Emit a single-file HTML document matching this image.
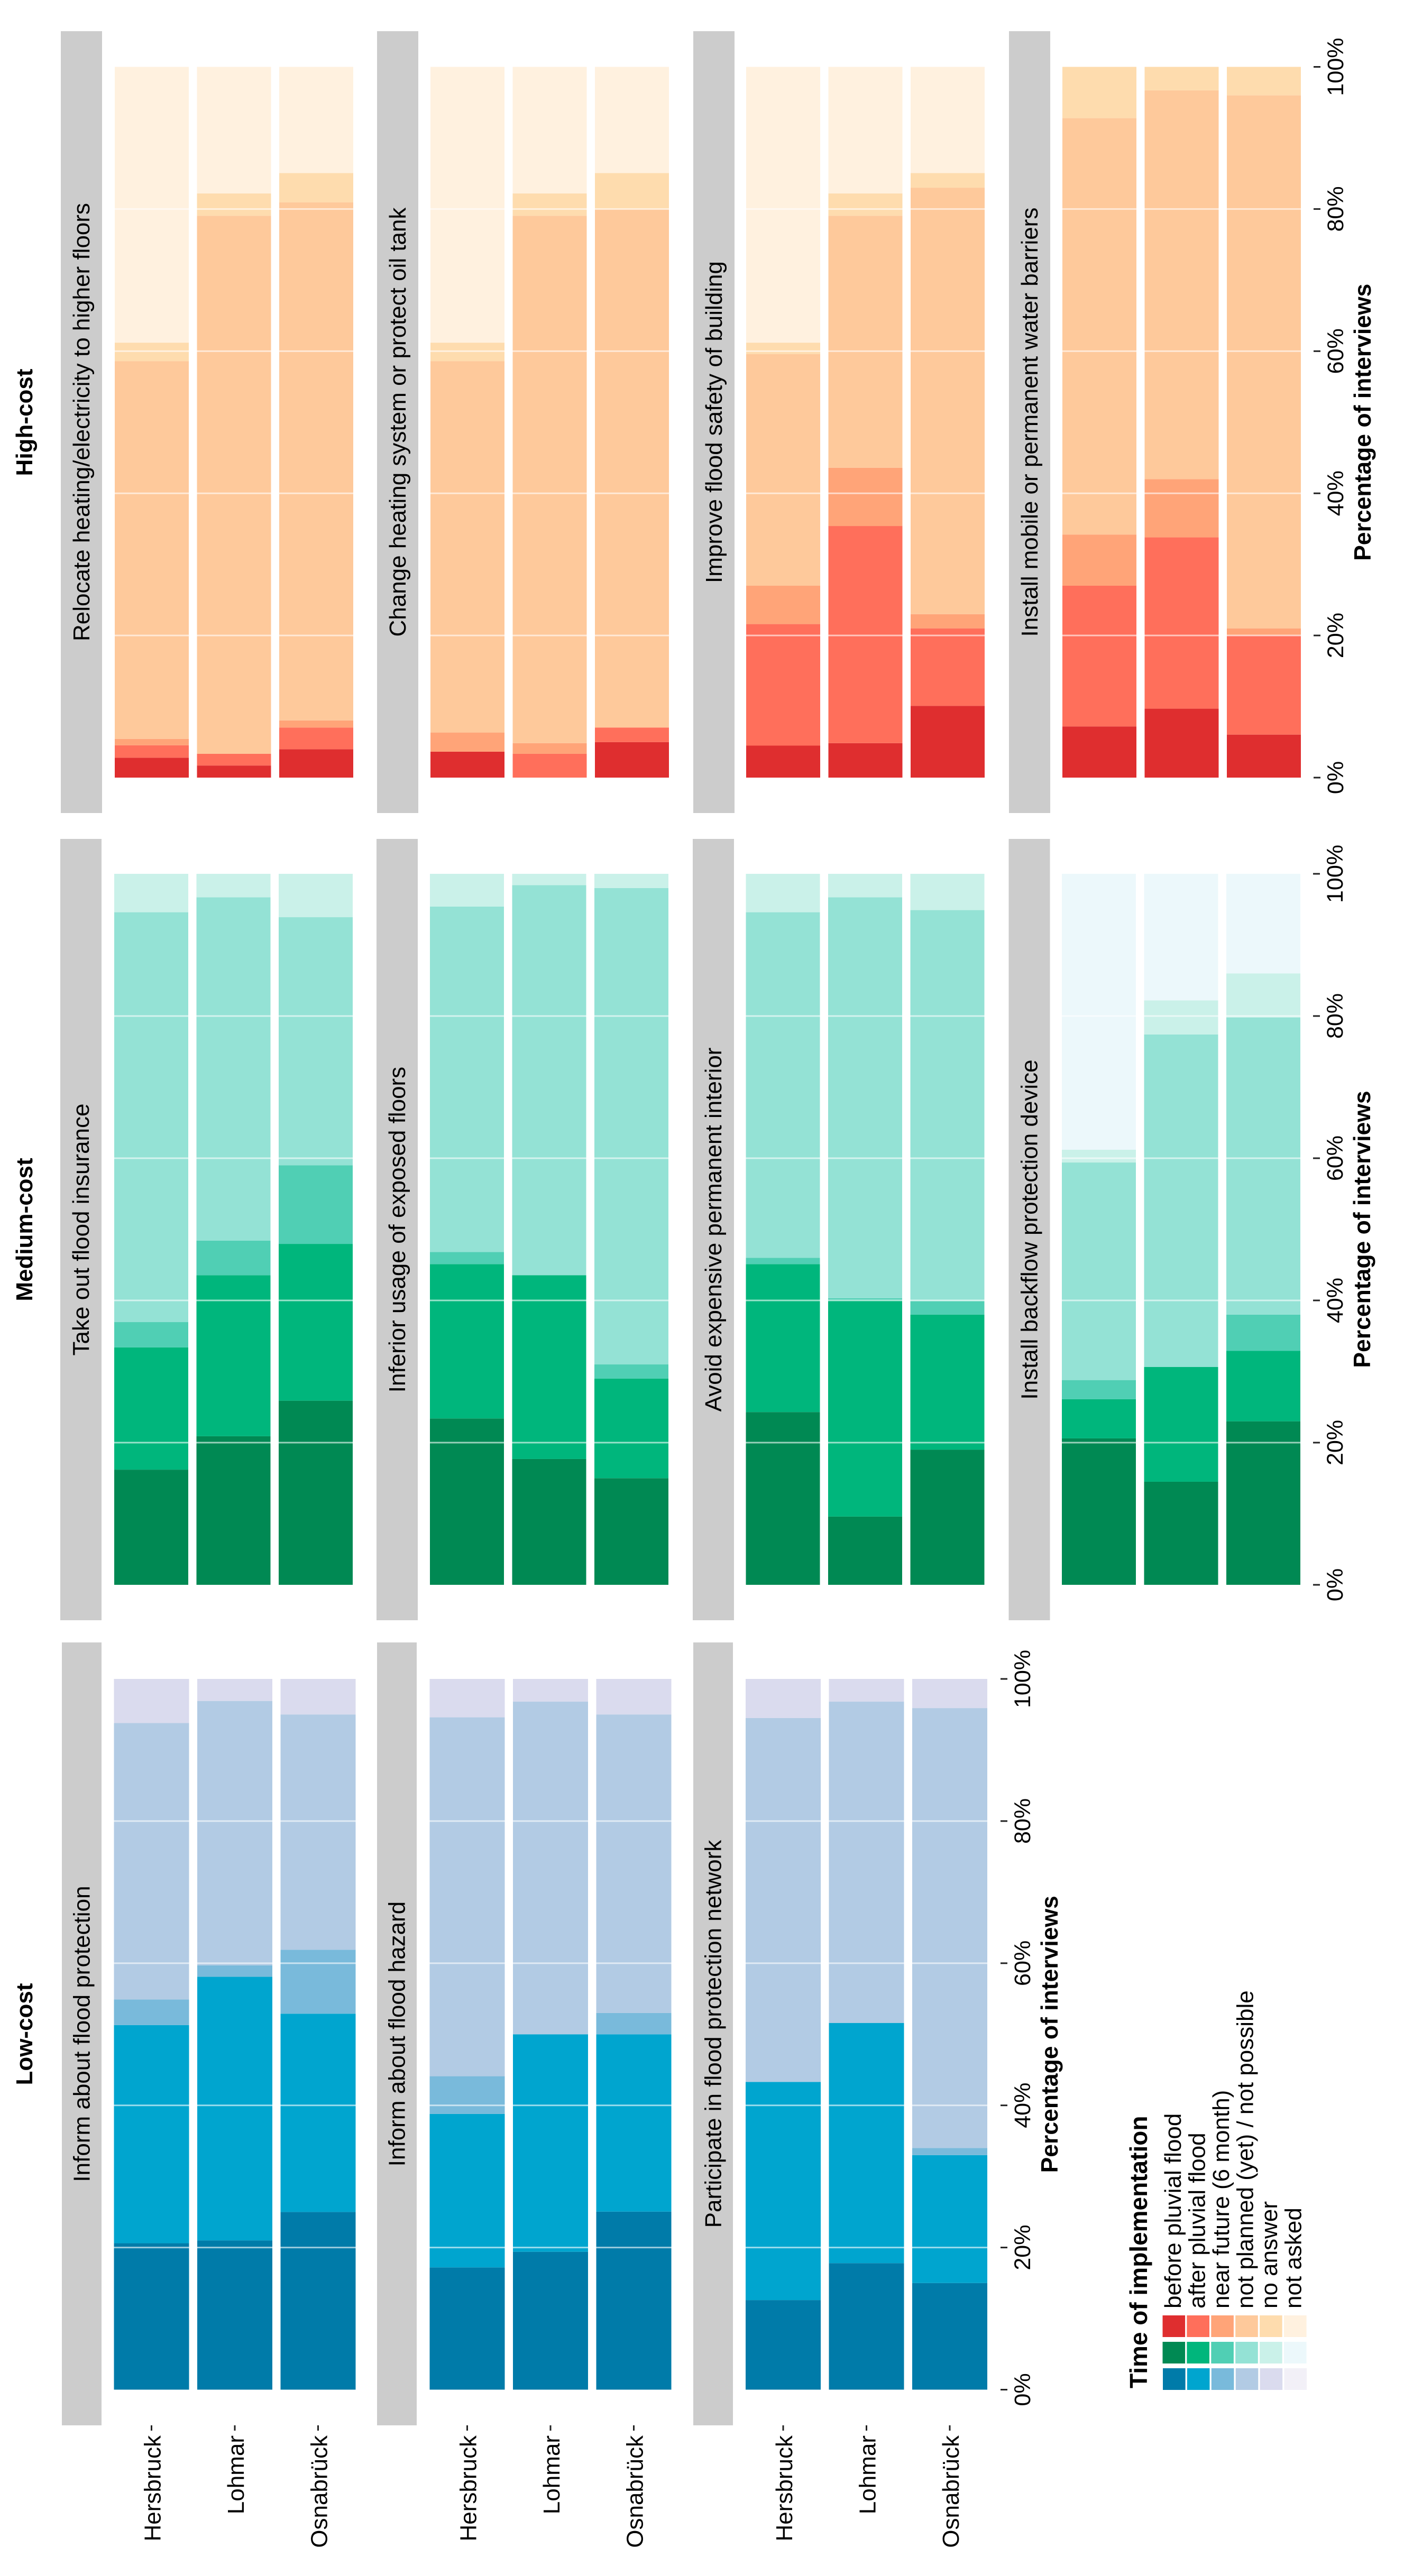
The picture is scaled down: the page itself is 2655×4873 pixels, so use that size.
<!DOCTYPE html>
<html lang="en">
<head>
<meta charset="utf-8">
<title>Time of implementation of flood protection measures</title>
<style>
  html, body { margin: 0; padding: 0; background: #ffffff; }
  svg { display: block; font-family: "Liberation Sans", Arial, sans-serif; }
  text { fill: #000000; }
</style>
</head>
<body>
<svg id="chart" xmlns="http://www.w3.org/2000/svg" width="2655" height="4873" viewBox="0 0 2655 4873">
  <rect x="0" y="0" width="2655" height="4873" fill="#ffffff"/>
  <text transform="translate(61,799) rotate(-90)" text-anchor="middle" font-size="44" font-weight="700">High-cost</text>
  <text transform="translate(61,2326) rotate(-90)" text-anchor="middle" font-size="44" font-weight="700">Medium-cost</text>
  <text transform="translate(61,3848) rotate(-90)" text-anchor="middle" font-size="44" font-weight="700">Low-cost</text>
  <text transform="translate(2169,4518) rotate(-90)" font-size="46" font-weight="700">Time of implementation</text>
  <g id="marks"></g>
</svg>
<script>
// ---- Data: share of interviews (%) per city, stacked in legend order ----
const cities = ["Hersbruck", "Lohmar", "Osnabrück"];
const tickValues = [0, 20, 40, 60, 80, 100];
const tickLabels = ["0%", "20%", "40%", "60%", "80%", "100%"];
const legendLabels = ["before pluvial flood", "after pluvial flood", "near future (6 month)", "not planned (yet) / not possible", "no answer", "not asked"];

const relocateHeating = [[2.8, 1.75, 0.9, 53.15, 2.6, 38.8], [1.7, 1.65, 0, 75.7, 3.15, 17.8], [4.0, 3.05, 1.0, 72.9, 4.1, 14.95]];
const changeHeating = [[3.65, 0, 2.7, 52.25, 2.6, 38.8], [0, 3.35, 1.5, 74.2, 3.15, 17.8], [5.0, 2.05, 0, 72.95, 5.05, 14.95]];
const improveSafety = [[4.5, 17.1, 5.4, 32.6, 1.6, 38.8], [4.85, 30.55, 8.2, 35.45, 3.15, 17.8], [10.1, 10.9, 2.0, 60.0, 2.05, 14.95]];
const waterBarriers = [[7.2, 19.8, 7.2, 58.6, 7.2, 0], [9.7, 24.1, 8.2, 54.7, 3.3, 0], [6.05, 13.95, 1.0, 75.0, 4.0, 0]];

const floodInsurance = [[16.2, 17.2, 3.55, 57.65, 5.4, 0], [20.9, 22.65, 4.85, 48.3, 3.3, 0], [25.9, 22.05, 11.05, 34.9, 6.1, 0]];
const inferiorUsage = [[23.4, 21.7, 1.7, 48.6, 4.6, 0], [17.7, 25.85, 0, 54.85, 1.6, 0], [15.0, 14.0, 2.0, 67.0, 2.0, 0]];
const avoidInterior = [[24.3, 20.8, 0.9, 48.6, 5.4, 0], [9.6, 30.4, 0.3, 56.4, 3.3, 0], [19.0, 19.0, 1.9, 55.0, 5.1, 0]];
const backflowDevice = [[20.6, 5.5, 2.7, 30.6, 1.8, 38.8], [14.5, 16.15, 0, 46.75, 4.8, 17.8], [23.0, 9.9, 5.1, 41.8, 6.2, 14.0]];

const informProtection = [[20.6, 30.7, 3.6, 38.9, 6.2, 0], [21.0, 37.1, 1.6, 37.2, 3.1, 0], [25.0, 27.9, 9.0, 33.1, 5.0, 0]];
const informHazard = [[17.2, 21.6, 5.3, 50.5, 5.4, 0], [19.4, 30.6, 0, 46.8, 3.2, 0], [25.05, 24.95, 3.0, 42.0, 5.0, 0]];
const participateNetwork = [[12.6, 30.7, 0, 51.2, 5.5, 0], [17.8, 33.8, 0, 45.2, 3.2, 0], [15.0, 18.0, 1.0, 61.9, 4.1, 0]];

// ---- Styling ----
const redRamp = ["#df2e2f", "#ff6f5b", "#ffa478", "#fec99b", "#fedcae", "#fff1df"];
const greenRamp = ["#008953", "#00b67c", "#50cfb4", "#94e2d5", "#caf1e9", "#ecf8fb"];
const blueRamp = ["#007ba9", "#00a5cf", "#79badb", "#b2cbe4", "#dadbee", "#f2f0f7"];

// ---- Layout ----
const rows = [
  { ramp: redRamp, top: 126.5, base: 1471, stripTop: 59, stripBottom: 1538, stripWidth: 78, barWidth: 140, barStep: 155.5,
    panels: [
      { title: "Relocate heating/electricity to higher floors", values: relocateHeating, strip: 115, bar: 217 },
      { title: "Change heating system or protect oil tank", values: changeHeating, strip: 713, bar: 814 },
      { title: "Improve flood safety of building", values: improveSafety, strip: 1311, bar: 1411 },
      { title: "Install mobile or permanent water barriers", values: waterBarriers, strip: 1908, bar: 2009 }
    ], axisBar: 2320 },
  { ramp: greenRamp, top: 1653, base: 2998, stripTop: 1587, stripBottom: 3065, stripWidth: 78, barWidth: 140, barStep: 155.5,
    panels: [
      { title: "Take out flood insurance", values: floodInsurance, strip: 114, bar: 216 },
      { title: "Inferior usage of exposed floors", values: inferiorUsage, strip: 712, bar: 813 },
      { title: "Avoid expensive permanent interior", values: avoidInterior, strip: 1310, bar: 1410.5 },
      { title: "Install backflow protection device", values: backflowDevice, strip: 1907.5, bar: 2008 }
    ], axisBar: 2319 },
  { ramp: blueRamp, top: 3176, base: 4520.5, stripTop: 3107, stripBottom: 4588, stripWidth: 75, barWidth: 142, barStep: 157.5,
    panels: [
      { title: "Inform about flood protection", values: informProtection, strip: 117, bar: 215.5 },
      { title: "Inform about flood hazard", values: informHazard, strip: 713, bar: 812.5 },
      { title: "Participate in flood protection network", values: participateNetwork, strip: 1311, bar: 1410 }
    ], axisBar: 1726, cityLabels: true }
];

const SVGNS = "http://www.w3.org/2000/svg";
const marks = document.getElementById("marks");

function yScale(row, value) {
  return row.base - (value / 100) * (row.base - row.top);
}

function makeRect(x, y, w, h, fill) {
  const r = document.createElementNS(SVGNS, "rect");
  r.setAttribute("x", x);
  r.setAttribute("y", y);
  r.setAttribute("width", w);
  r.setAttribute("height", h);
  r.setAttribute("fill", fill);
  marks.appendChild(r);
  return r;
}

function makeRotatedText(x, y, size, weight, anchor, content) {
  const t = document.createElementNS(SVGNS, "text");
  t.setAttribute("transform", "translate(" + x + "," + y + ") rotate(-90)");
  t.setAttribute("font-size", size);
  t.setAttribute("font-weight", weight);
  t.setAttribute("text-anchor", anchor);
  t.textContent = content;
  marks.appendChild(t);
  return t;
}

rows.forEach(function (row) {
  const midY = (row.stripTop + row.stripBottom) / 2;

  row.panels.forEach(function (panel) {
    const strip = makeRect(panel.strip, row.stripTop, row.stripWidth, row.stripBottom - row.stripTop, "#cccccc");
    
    

    const stripLabel = makeRotatedText(panel.strip + row.stripWidth / 2 + 15, midY, 44, 400, "middle", panel.title);
    
    

    panel.values.forEach(function (shares, c) {
      const barX = panel.bar + c * row.barStep;
      let running = 0;
      shares.forEach(function (share, s) {
        if (share <= 0) return;
        const yTop = yScale(row, running + share);
        const yBottom = yScale(row, running);
        const seg = makeRect(barX, yTop, row.barWidth, yBottom - yTop, row.ramp[s]);
        
        
        running += share;
      });

      tickValues.forEach(function (tick) {
        if (tick === 0 || tick === 100) return;
        const grid = makeRect(barX, yScale(row, tick) - 1.5, row.barWidth, 3, "#ffffff");
        grid.setAttribute("opacity", "0.6");
        
        
      });

      if (row.cityLabels) {
        const cityTick = makeRect(barX + row.barWidth / 2 - 1.5, 4588, 3, 10, "#222222");
        
        

        const cityLabel = makeRotatedText(barX + row.barWidth / 2 + 17, 4607, 44, 400, "end", cities[c]);
        
        
      }
    });
  });

  // value axis on the right of the last bar in the row
  const axisEnd = row.axisBar + row.barWidth;
  tickValues.forEach(function (tick, i) {
    const y = yScale(row, tick);
    const tickMark = makeRect(axisEnd + 24, y - 1.5, 13, 3, "#222222");
    
    

    const tickLabel = makeRotatedText(axisEnd + 80, y, 43, 400, "middle", tickLabels[i]);
    
    
  });

  const axisTitle = makeRotatedText(axisEnd + 132, (row.top + row.base) / 2, 44.5, 700, "middle", "Percentage of interviews");
  
  
});

// ---- Legend ----
const legendRamps = [redRamp, greenRamp, blueRamp];
legendRamps.forEach(function (ramp, r) {
  ramp.forEach(function (colour, i) {
    const swatch = makeRect(2198.5 + i * 45.9 + (r === 2 ? 0.5 : 0), 4380 + r * 50, 42.6, 41, colour);
    
    
  });
});
legendLabels.forEach(function (label, i) {
  const entry = makeRotatedText(2233 + i * 45.5, 4367, 44, 400, "start", label);
  
  
});
</script>
</body>
</html>
